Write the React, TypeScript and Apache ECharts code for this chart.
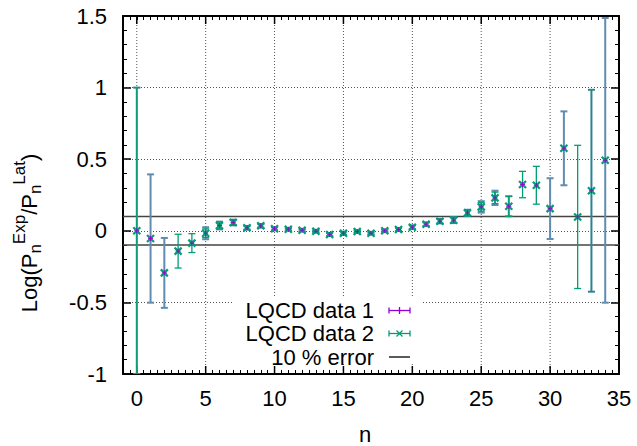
import React, { useEffect, useRef } from "react";
import * as echarts from "echarts";

// ---- data ----
const nValues = [0, 1, 2, 3, 4, 5, 6, 7, 8, 9, 10, 11, 12, 13, 14, 15, 16, 17, 18, 19, 20, 21, 22, 23, 24, 25, 26, 27, 28, 29, 30, 31, 32, 33, 34];
const logRatio = [0, -0.054, -0.294, -0.142, -0.086, -0.017, 0.037, 0.058, 0.021, 0.035, 0.014, 0.011, 0.004, -0.003, -0.026, -0.017, -0.005, -0.017, 0.0, 0.009, 0.025, 0.046, 0.067, 0.074, 0.125, 0.167, 0.23, 0.171, 0.323, 0.318, 0.155, 0.576, 0.097, 0.28, 0.492];
const errData1 = [1.0, 0.448, 0.244, 0, 0, 0.042, 0.027, 0.02, 0.012, 0.012, 0.01, 0.008, 0.008, 0.008, 0.01, 0.01, 0.008, 0.008, 0.008, 0.01, 0.012, 0.012, 0.015, 0.02, 0.022, 0.04, 0.05, 0.07, 0, 0, 0.212, 0.258, 0, 0.705, 0.994];
const errData2 = [1.0, 0, 0, 0.118, 0.066, 0.03, 0.025, 0.02, 0.012, 0.012, 0.01, 0.008, 0.008, 0.008, 0.01, 0.01, 0.008, 0.008, 0.008, 0.01, 0.012, 0.012, 0.015, 0.02, 0.022, 0.03, 0.04, 0.07, 0.092, 0.132, 0, 0, 0.5, 0.705, 0];
const errorBand = [0.1, -0.1];
const xMajorTicks = [0, 5, 10, 15, 20, 25, 30, 35];
const legendLabels = ["LQCD data 1", "LQCD data 2", "10 % error"];

const X_MIN = -1, X_MAX = 35, Y_MIN = -1, Y_MAX = 1.5;
const FONT = '"Liberation Sans", Arial, sans-serif';
const PURPLE = "#9400d3";
const GREEN = "#009e73";
const STEEL = "#5f8cb0";
const GRIDC = "#555555";

function measure(text: string, size: number): number {
  const c = document.createElement("canvas").getContext("2d");
  if (!c) return text.length * size * 0.55;
  c.font = `${size}px ${FONT}`;
  return c.measureText(text).width;
}

function buildYTitle() {
  const main = 22, small = 17;
  const segs = [
    { t: "Log(P", s: main, dy: 0 },
    { t: "n", s: small, dy: 6 },
    { t: "Exp", s: small, dy: -10 },
    { t: "/P", s: main, dy: 0 },
    { t: "n", s: small, dy: 6 },
    { t: "Lat", s: small, dy: -10 },
    { t: ")", s: main, dy: 0 },
  ];
  let off = 0;
  const children: any[] = [];
  for (const sg of segs) {
    children.push({
      type: "text",
      x: off,
      y: sg.dy,
      style: { text: sg.t, fontSize: sg.s, fontFamily: FONT, fill: "#000", align: "left", verticalAlign: "middle" },
    });
    off += measure(sg.t, sg.s);
  }
  return { type: "group", x: 29, y: 233 + off / 2, rotation: Math.PI / 2, children };
}

function barSeries(err: number[], color: string, width: number, z: number) {
  return {
    type: "custom",
    z,
    clip: true,
    data: nValues.map((n, i) => [n, logRatio[i], err[i]]),
    encode: { x: 0, y: 1 },
    renderItem: (_p: any, api: any) => {
      const x = api.value(0), y = api.value(1), e = api.value(2);
      if (!(e > 0)) return { type: "group", children: [] };
      const t = api.coord([x, y + e]);
      const b = api.coord([x, y - e]);
      const cap = 3.5;
      const st = { stroke: color, lineWidth: width };
      return {
        type: "group",
        children: [
          { type: "line", shape: { x1: t[0], y1: t[1], x2: b[0], y2: b[1] }, style: st },
          { type: "line", shape: { x1: t[0] - cap, y1: t[1], x2: t[0] + cap, y2: t[1] }, style: st },
          { type: "line", shape: { x1: b[0] - cap, y1: b[1], x2: b[0] + cap, y2: b[1] }, style: st },
        ],
      };
    },
  };
}

function markerSeries(kind: "plus" | "cross", color: string, z: number) {
  return {
    type: "custom",
    z,
    data: nValues.map((n, i) => [n, logRatio[i]]),
    encode: { x: 0, y: 1 },
    renderItem: (_p: any, api: any) => {
      const c = api.coord([api.value(0), api.value(1)]);
      const h = kind === "plus" ? 2.5 : 3.5;
      const st = { stroke: color, lineWidth: kind === "plus" ? 1 : 2.2, opacity: kind === "plus" ? 0.9 : 1 };
      const lines =
        kind === "plus"
          ? [
              [c[0] - h, c[1], c[0] + h, c[1]],
              [c[0], c[1] - h, c[0], c[1] + h],
            ]
          : [
              [c[0] - h, c[1] - h, c[0] + h, c[1] + h],
              [c[0] - h, c[1] + h, c[0] + h, c[1] - h],
            ];
      return {
        type: "group",
        children: lines.map((l) => ({ type: "line", shape: { x1: l[0], y1: l[1], x2: l[2], y2: l[3] }, style: st })),
      };
    },
  };
}

function xGridSeries() {
  return {
    type: "custom",
    z: 0,
    silent: true,
    data: xMajorTicks.map((v) => [v, 0]),
    encode: { x: 0, y: 1 },
    renderItem: (_p: any, api: any) => {
      const v = api.value(0);
      const b = api.coord([v, Y_MIN]);
      const t = api.coord([v, Y_MAX]);
      const children: any[] = [
        { type: "line", shape: { x1: b[0], y1: b[1], x2: b[0], y2: b[1] - 8 }, style: { stroke: "#000", lineWidth: 1.5 } },
        { type: "line", shape: { x1: t[0], y1: t[1], x2: t[0], y2: t[1] + 8 }, style: { stroke: "#000", lineWidth: 1.5 } },
      ];
      if (v > X_MIN && v < X_MAX) {
        children.unshift({
          type: "line",
          shape: { x1: b[0], y1: b[1], x2: t[0], y2: t[1] },
          style: { stroke: GRIDC, lineWidth: 1, lineDash: [1, 2] },
        });
      }
      return { type: "group", children };
    },
  };
}

function legendGraphic() {
  const rows = [310.5, 333.5, 357];
  const textRight = 374, s0 = 389, s1 = 410;
  const els: any[] = [
    { type: "rect", z: 1, shape: { x: 234, y: 298, width: 188, height: 66 }, style: { fill: "#fff" } },
  ];
  legendLabels.forEach((lab, i) => {
    els.push({
      type: "text",
      z: 10,
      x: textRight,
      y: rows[i],
      style: { text: lab, fontSize: 22, fontFamily: FONT, fill: "#000", align: "right", verticalAlign: "middle" },
    });
  });
  const y1 = rows[0], y2 = rows[1], y3 = rows[2];
  const mid = (s0 + s1) / 2;
  const p = { stroke: PURPLE, lineWidth: 1.3 };
  const g = { stroke: GREEN, lineWidth: 1.3 };
  els.push(
    { type: "line", z: 10, shape: { x1: s0, y1, x2: s1, y2: y1 }, style: p },
    { type: "line", z: 10, shape: { x1: s0, y1: y1 - 3, x2: s0, y2: y1 + 3 }, style: p },
    { type: "line", z: 10, shape: { x1: s1, y1: y1 - 3, x2: s1, y2: y1 + 3 }, style: p },
    { type: "line", z: 10, shape: { x1: mid, y1: y1 - 3.5, x2: mid, y2: y1 + 3.5 }, style: p },
    { type: "line", z: 10, shape: { x1: s0, y1: y2, x2: s1, y2 }, style: g },
    { type: "line", z: 10, shape: { x1: s0, y1: y2 - 3, x2: s0, y2: y2 + 3 }, style: g },
    { type: "line", z: 10, shape: { x1: s1, y1: y2 - 3, x2: s1, y2: y2 + 3 }, style: g },
    { type: "line", z: 10, shape: { x1: mid - 3, y1: y2 - 3, x2: mid + 3, y2: y2 + 3 }, style: g },
    { type: "line", z: 10, shape: { x1: mid - 3, y1: y2 + 3, x2: mid + 3, y2: y2 - 3 }, style: g },
    { type: "line", z: 10, shape: { x1: s0, y1: y3, x2: s1, y2: y3 }, style: { stroke: "#000", lineWidth: 1.3 } }
  );
  return els;
}

export default function App() {
  const ref = useRef<HTMLDivElement>(null);
  useEffect(() => {
    document.body.style.margin = "0";
    if (!ref.current) return;
    const chart = echarts.init(ref.current, undefined, { renderer: "svg" });
    const axisLineStyle = { color: "#000", width: 2 };
    const xAxisBase = {
      type: "value",
      min: X_MIN,
      max: X_MAX,
      interval: 0.5,
      splitLine: { show: false },
      axisLine: { show: true, onZero: false, lineStyle: axisLineStyle },
      axisTick: { show: true, inside: true, length: 4, lineStyle: { color: "#000", width: 1 } },
    };
    const yAxisBase = {
      type: "value",
      min: Y_MIN,
      max: Y_MAX,
      interval: 0.5,
      axisLine: { show: true, onZero: false, lineStyle: axisLineStyle },
      axisTick: { show: true, inside: true, length: 8, lineStyle: { color: "#000", width: 1.5 } },
      minorTick: { show: true, splitNumber: 5, length: 4, lineStyle: { color: "#000", width: 1 } },
    };
    chart.setOption({
      animation: false,
      backgroundColor: "#fff",
      grid: { left: 123, right: 18, top: 16, bottom: 72 },
      xAxis: [
        {
          ...xAxisBase,
          position: "bottom",
          axisLabel: {
            show: true,
            margin: 13,
            fontSize: 22,
            fontFamily: FONT,
            color: "#000",
            formatter: (v: number) => (Math.abs(v % 5) < 1e-6 ? String(Math.round(v)) : ""),
          },
        },
        { ...xAxisBase, position: "top", axisLabel: { show: false } },
      ],
      yAxis: [
        {
          ...yAxisBase,
          position: "left",
          axisLabel: { show: true, margin: 16, fontSize: 22, fontFamily: FONT, color: "#000" },
          splitLine: { show: true, lineStyle: { color: GRIDC, width: 1, type: [1, 2] } },
        },
        { ...yAxisBase, position: "right", axisLabel: { show: false }, splitLine: { show: false } },
      ],
      graphic: [
        buildYTitle(),
        { type: "text", x: 365, y: 434, style: { text: "n", fontSize: 22, fontFamily: FONT, fill: "#000", align: "center", verticalAlign: "middle" } },
        ...legendGraphic(),
      ],
      series: [
        xGridSeries(),
        ...errorBand.map((v) => ({
          type: "line",
          z: 1.5,
          symbol: "none",
          silent: true,
          data: [
            [X_MIN, v],
            [X_MAX, v],
          ],
          lineStyle: { color: "#444", width: 1.5 },
        })),
        barSeries(errData1, STEEL, 2, 3),
        barSeries(errData2, GREEN, 1.3, 4),
        markerSeries("cross", GREEN, 5),
        markerSeries("plus", PURPLE, 6),
      ],
    });
    return () => chart.dispose();
  }, []);
  return <div ref={ref} style={{ width: 637, height: 446 }} />;
}
